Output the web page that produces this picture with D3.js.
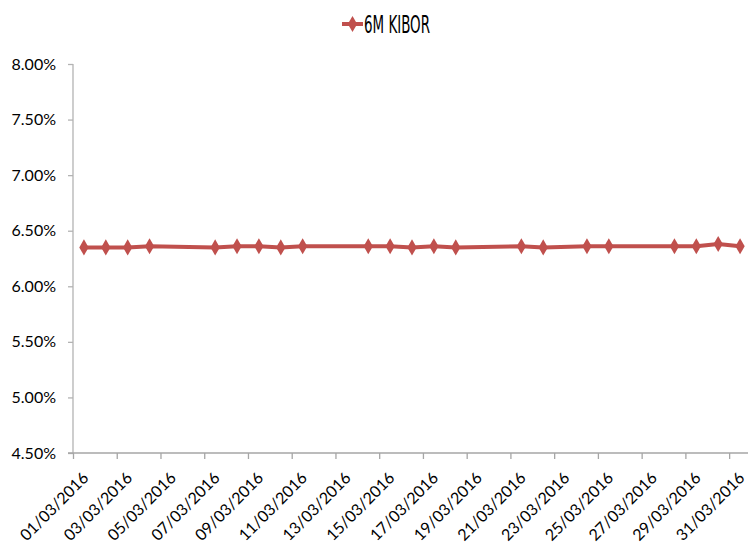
<!DOCTYPE html>
<html>
<head>
<meta charset="utf-8">
<script src="https://cdn.jsdelivr.net/npm/d3@7"></script>
<style>
  body { margin: 0; background: #fff; }
  svg text { font-family: Lato, "Open Sans", sans-serif; fill: #000; }
</style>
</head>
<body>
<div id="chart"></div>
<script>
// chart values
const seriesName = "6M KIBOR";
const dates = ["01/03/2016", "02/03/2016", "03/03/2016", "04/03/2016", "07/03/2016", "08/03/2016",
  "09/03/2016", "10/03/2016", "11/03/2016", "14/03/2016", "15/03/2016", "16/03/2016",
  "17/03/2016", "18/03/2016", "21/03/2016", "22/03/2016", "24/03/2016", "25/03/2016",
  "28/03/2016", "29/03/2016", "30/03/2016", "31/03/2016"];
const rates = [6.35, 6.35, 6.35, 6.36, 6.35, 6.36, 6.36, 6.35, 6.36, 6.36, 6.36, 6.35,
  6.36, 6.35, 6.36, 6.35, 6.36, 6.36, 6.36, 6.36, 6.38, 6.36];
const yTicks = [4.5, 5.0, 5.5, 6.0, 6.5, 7.0, 7.5, 8.0];
const xTickLabels = ["01/03/2016", "03/03/2016", "05/03/2016", "07/03/2016", "09/03/2016",
  "11/03/2016", "13/03/2016", "15/03/2016", "17/03/2016", "19/03/2016", "21/03/2016",
  "23/03/2016", "25/03/2016", "27/03/2016", "29/03/2016", "31/03/2016"];

const width = 748, height = 552;
const margin = {top: 64, right: -3, bottom: 99, left: 73};
const parseDate = d3.timeParse("%d/%m/%Y");
const lineColor = "#C0504D";

let svg = d3.select("#chart")
    .append("svg")
    .attr("width", width)
    .attr("height", height);

let x = d3.scaleTime()
    .domain([parseDate("01/03/2016"), parseDate("01/04/2016")])
    .range([margin.left, width - margin.right]);

let y = d3.scaleLinear()
    .domain([4.5, 8.0])
    .range([height - margin.bottom, margin.top]);

// points sit in the middle of their day, like excel's date axis
const halfDay = 12 * 3600 * 1000;
let data = dates.map((d, i) => ({date: parseDate(d), rate: rates[i]}));

// y axis
let yAxis = svg.append("g")
    .attr("transform", `translate(${margin.left},0)`)
    .call(d3.axisLeft(y).tickValues(yTicks).tickSize(5).tickPadding(12)
        .tickFormat(d => d3.format(".2f")(d) + "%"));
yAxis.selectAll("path, line").attr("stroke", "#b3b3b3").attr("stroke-width", 1.3);
yAxis.select(".domain").attr("d", `M0,${y(8)}V${y(4.5)}`);
yAxis.selectAll("text").style("font-size", "16px");

// x axis
let xAxis = svg.append("g")
    .attr("transform", `translate(0,${y(4.5)})`)
    .call(d3.axisBottom(x).tickValues(xTickLabels.map(parseDate)).tickSize(6)
        .tickFormat(d3.timeFormat("%d/%m/%Y")));
xAxis.selectAll("path, line").attr("stroke", "#a6a6a6").attr("stroke-width", 1.3);
xAxis.select(".domain").attr("d", `M${margin.left - 5},0H${width}`);
xAxis.selectAll("text")
    .style("font-size", "16px")
    .style("text-anchor", "end")
    .attr("dy", "0.35em")
    .attr("y", 0)
    .attr("transform", "translate(12,22) rotate(-45)");

// the line
let line = d3.line()
    .x(d => x(+d.date + halfDay))
    .y(d => y(d.rate));

svg.append("path")
    .datum(data)
    .attr("fill", "none")
    .attr("stroke", lineColor)
    .attr("stroke-width", 4)
    .attr("stroke-linejoin", "round")
    .attr("d", line);

let diamond = d3.symbol().type(d3.symbolDiamond).size(75);
svg.selectAll(".marker")
    .data(data)
    .enter()
    .append("path")
    .attr("class", "marker")
    .attr("fill", lineColor)
    .attr("d", diamond)
    .attr("transform", d => `translate(${x(+d.date + halfDay)},${y(d.rate)})`);

// legend
let legend = svg.append("g").attr("transform", "translate(342,24)");
legend.append("line")
    .attr("x1", 0).attr("x2", 21)
    .attr("stroke", lineColor).attr("stroke-width", 4);
legend.append("path")
    .attr("fill", lineColor)
    .attr("d", diamond)
    .attr("transform", "translate(10.5,0)");
legend.append("text")
    .attr("x", 22)
    .attr("y", 0)
    .attr("dy", "0.36em")
    .style("font-family", "'DejaVu Sans Condensed', 'DejaVu Sans', sans-serif")
    .style("font-size", "25px")
    .attr("textLength", 66)
    .attr("lengthAdjust", "spacingAndGlyphs")
    .text(seriesName);
</script>
</body>
</html>
